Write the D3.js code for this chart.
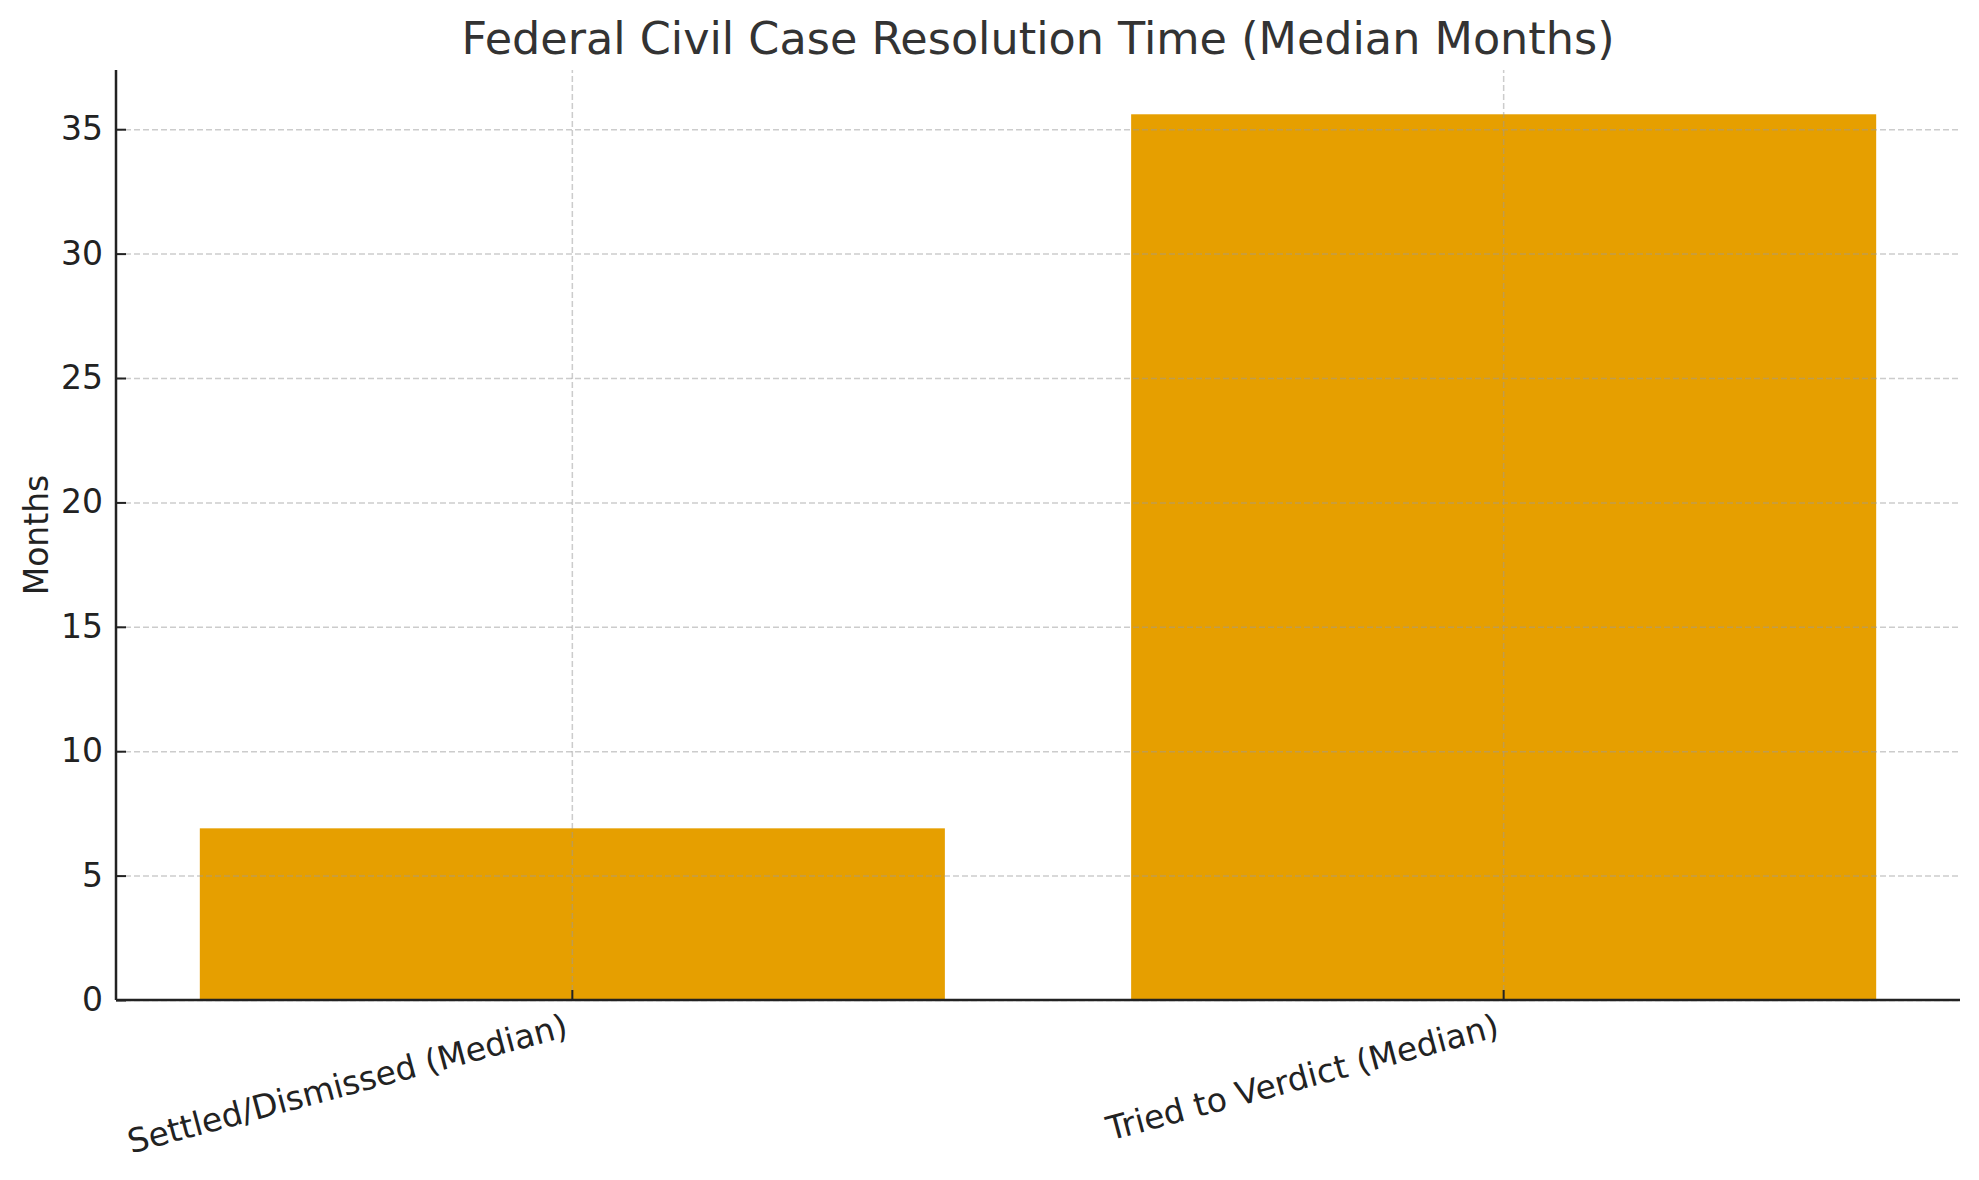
<!DOCTYPE html>
<html>
<head>
<meta charset="utf-8">
<script src="https://cdn.jsdelivr.net/npm/d3@7"></script>
<style>
  body { margin: 0; background: #fff; }
  svg { font-family: 'DejaVu Sans', sans-serif; display: block; }
</style>
</head>
<body>
<svg></svg>
<script>
var width   = 1979;
var height  = 1180;
var left    = 116;
var right   = 1960;
var top_    = 70;
var bottom  = 1000;

var categories = ['Settled/Dismissed (Median)', 'Tried to Verdict (Median)'];
var months     = [6.9, 35.6];
var yTicks     = [0, 5, 10, 15, 20, 25, 30, 35];

var data = categories.map((c, i) => ({ category: c, value: months[i] }));

var svg = d3.select('svg')
        .attr('width', width)
        .attr('height', height);

// matplotlib style: bars at 0..n-1, width 0.8, 5% margins
var xLin = d3.scaleLinear()
                .domain([-0.4 - 0.09, categories.length - 1 + 0.4 + 0.09])
                .range([left, right]);

var yScale = d3.scaleLinear()
                .domain([0, d3.max(months) * 1.05])
                .range([bottom, top_]);

var xScale = d3.scaleBand()
                .domain(categories)
                .range([xLin(-0.5), xLin(categories.length - 0.5)])
                .paddingInner(0.2)
                .paddingOuter(0.1);

// bars
svg.append('g')
    .selectAll('rect')
    .data(data)
    .enter()
    .append('rect')
        .attr('x', d => xScale(d.category))
        .attr('y', d => yScale(d.value))
        .attr('width', xScale.bandwidth())
        .attr('height', d => bottom - yScale(d.value))
        .attr('fill', '#E69F00');

// grid on top of bars
var yGrid = d3.axisLeft(yScale)
                .tickValues(yTicks)
                .tickSize(-(right - left))
                .tickFormat('');

svg.append('g')
    .attr('transform', 'translate(' + left + ',0)')
    .call(yGrid)
    .call(g => g.select('.domain').remove())
    .selectAll('line')
        .attr('stroke', '#999')
        .attr('stroke-opacity', 0.5)
        .attr('stroke-width', 1.5)
        .attr('stroke-dasharray', '6,3');

var xGrid = d3.axisBottom(xScale)
                .tickSize(-(bottom - top_))
                .tickFormat('');

svg.append('g')
    .attr('transform', 'translate(0,' + bottom + ')')
    .call(xGrid)
    .call(g => g.select('.domain').remove())
    .selectAll('line')
        .attr('stroke', '#999')
        .attr('stroke-opacity', 0.5)
        .attr('stroke-width', 1.5)
        .attr('stroke-dasharray', '6,3');

// y axis (ticks point inward)
var yAxis = d3.axisLeft(yScale)
                .tickValues(yTicks)
                .tickSize(-10)
                .tickSizeOuter(0)
                .tickPadding(13);

svg.append('g')
    .attr('transform', 'translate(' + left + ',0)')
    .call(yAxis)
    .call(g => g.select('.domain').attr('stroke', '#222').attr('stroke-width', 2.5)
                .attr('d', 'M0,' + bottom + 'V' + top_))
    .call(g => g.selectAll('.tick line').attr('stroke', '#222').attr('stroke-width', 2))
    .call(g => g.selectAll('.tick text')
                .attr('fill', '#222')
                .attr('font-size', 33)
                .attr('font-family', 'DejaVu Sans'));

// x axis
var xAxis = d3.axisBottom(xScale)
                .tickSize(-10)
                .tickSizeOuter(0)
                .tickFormat('');

svg.append('g')
    .attr('transform', 'translate(0,' + bottom + ')')
    .call(xAxis)
    .call(g => g.select('.domain').attr('stroke', '#222').attr('stroke-width', 2.5)
                .attr('d', 'M' + left + ',0H' + right))
    .call(g => g.selectAll('.tick line').attr('stroke', '#222').attr('stroke-width', 2));

svg.append('g')
    .selectAll('text')
    .data(categories)
    .enter()
    .append('text')
        .attr('transform', d => 'translate(' + (xScale(d) + xScale.bandwidth() / 2 - 3) + ',' + 1036 + ') rotate(-15)')
        .attr('text-anchor', 'end')
        .attr('font-size', 33)
        .attr('fill', '#222')
        .text(d => d);

// title
svg.append('text')
        .attr('x', (left + right) / 2)
        .attr('y', 54)
        .attr('text-anchor', 'middle')
        .attr('font-size', 44.5)
        .attr('fill', '#333')
        .text('Federal Civil Case Resolution Time (Median Months)');

// y label
svg.append('text')
        .attr('transform', 'rotate(-90)')
        .attr('x', -(top_ + bottom) / 2)
        .attr('y', 48)
        .attr('text-anchor', 'middle')
        .attr('font-size', 33)
        .attr('fill', '#222')
        .text('Months');
</script>
</body>
</html>
